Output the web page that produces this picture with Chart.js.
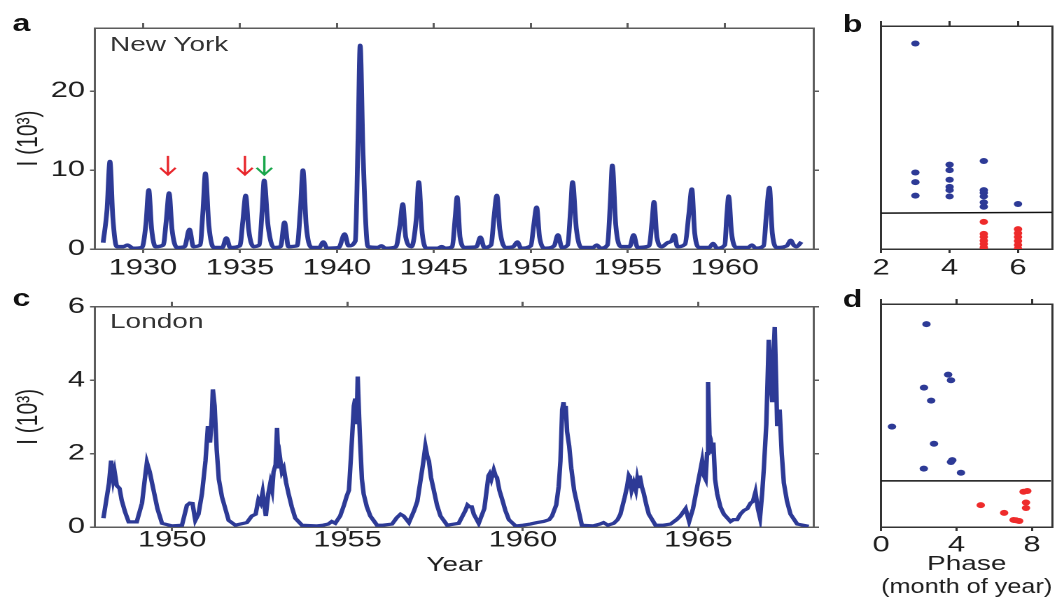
<!DOCTYPE html>
<html>
<head>
<meta charset="utf-8">
<script src="https://cdn.jsdelivr.net/npm/chart.js@4.4.0/dist/chart.umd.min.js"></script>
<style>
  html, body { margin: 0; padding: 0; background: #fff; overflow: hidden; }
  /* the original figure is stretched sideways, so the whole page is drawn narrow and scaled */
  #fig { position: absolute; left: 0; top: 0; width: 758px; height: 598px;
         transform: scaleX(1.4); transform-origin: 0 0; }
  #fig canvas { position: absolute; }
  .tag { position: absolute; font: bold 23px "Liberation Sans", Arial, sans-serif; line-height: 1; color: #111; }
  .city { position: absolute; font: 20px "Liberation Sans", Arial, sans-serif; line-height: 1; color: #333; }
</style>
</head>
<body>
<div id="fig">
  <canvas id="chartA"></canvas>
  <canvas id="chartB"></canvas>
  <canvas id="chartC"></canvas>
  <canvas id="chartD"></canvas>
  <div class="tag" style="left:9px;top:12px">a</div>
  <div class="tag" style="left:602px;top:13px">b</div>
  <div class="tag" style="left:9px;top:287px">c</div>
  <div class="tag" style="left:602px;top:288px">d</div>
  <div class="city" style="left:78.6px;top:34px">New York</div>
  <div class="city" style="left:78.6px;top:311px">London</div>
</div>
<script>
const S = 1.4; // horizontal stretch

// ===== a: New York, cases (thousands) =====
const nyYear = [
  1927.95, 1928.15, 1928.3, 1928.45, 1928.65, 1929.0, 1929.2, 1929.5,
  1929.95, 1930.15, 1930.3, 1930.45, 1930.65,
  1931.05, 1931.2, 1931.35, 1931.5, 1931.75,
  1932.15, 1932.4, 1932.6,
  1932.95, 1933.1, 1933.22, 1933.4, 1933.65,
  1934.1, 1934.3, 1934.5,
  1935.0, 1935.15, 1935.3, 1935.45, 1935.7,
  1936.0, 1936.15, 1936.25, 1936.45, 1936.75,
  1937.1, 1937.3, 1937.5,
  1937.95, 1938.12, 1938.25, 1938.42, 1938.7,
  1939.1, 1939.3, 1939.5,
  1940.1, 1940.4, 1940.6,
  1940.95, 1941.1, 1941.2, 1941.35, 1941.6,
  1942.1, 1942.3, 1942.5,
  1943.05, 1943.25, 1943.4, 1943.55, 1943.85,
  1944.1, 1944.22, 1944.4, 1944.65,
  1945.2, 1945.4, 1945.6,
  1945.95, 1946.1, 1946.2, 1946.35, 1946.6,
  1947.2, 1947.4, 1947.6,
  1947.95, 1948.1, 1948.25, 1948.4, 1948.7,
  1949.1, 1949.3, 1949.5,
  1950.0, 1950.15, 1950.3, 1950.45, 1950.75,
  1951.2, 1951.4, 1951.6,
  1951.9, 1952.05, 1952.15, 1952.35, 1952.6,
  1953.2, 1953.4, 1953.6,
  1953.95, 1954.1, 1954.2, 1954.38, 1954.65,
  1955.1, 1955.3, 1955.5,
  1956.1, 1956.25, 1956.35, 1956.5, 1956.75,
  1957.05, 1957.25, 1957.4, 1957.55,
  1957.95, 1958.15, 1958.3, 1958.45, 1958.7,
  1959.2, 1959.4, 1959.6,
  1960.0, 1960.1, 1960.2, 1960.35, 1960.6,
  1961.2, 1961.4, 1961.6,
  1962.0, 1962.15, 1962.3, 1962.45, 1962.7,
  1963.2, 1963.4, 1963.55, 1963.7, 1963.95
];
const nyCases = [
  0.8, 5, 11.1, 4, 0.3, 0.3, 0.5, 0.1,
  0.2, 3, 7.5, 2.5, 0.3,
  0.5, 3.5, 7.1, 2.5, 0.2,
  0.3, 2.5, 0.3,
  0.5, 5, 9.6, 3, 0.2,
  0.2, 1.4, 0.2,
  0.4, 3.5, 6.8, 2.5, 0.3,
  0.5, 5, 8.7, 3, 0.2,
  0.3, 3.4, 0.3,
  0.4, 5, 10.0, 3, 0.2,
  0.2, 0.9, 0.1,
  0.2, 1.9, 0.4,
  1, 15, 25.8, 12, 0.3,
  0.2, 0.4, 0.1,
  0.3, 3, 5.7, 1.5, 0.3,
  4, 8.5, 2, 0.1,
  0.1, 0.3, 0.1,
  0.3, 4, 6.6, 1.5, 0.2,
  0.3, 1.5, 0.2,
  0.5, 4, 6.8, 2.5, 0.2,
  0.3, 0.9, 0.1,
  0.4, 3, 5.3, 1.5, 0.1,
  0.4, 1.8, 0.2,
  0.5, 5, 8.5, 2.5, 0.2,
  0.2, 0.5, 0.1,
  0.5, 6, 10.6, 3, 0.3,
  0.3, 1.8, 0.2,
  0.4, 3.5, 6.0, 1.5, 0.3,
  0.8, 1.0, 1.8, 0.3,
  0.6, 4.5, 7.6, 2, 0.2,
  0.2, 0.7, 0.1,
  0.5, 4, 6.7, 2, 0.2,
  0.2, 0.5, 0.1,
  0.4, 4.5, 7.8, 2, 0.2,
  0.4, 1.1, 0.5, 0.3, 0.9
];
const nyTicksX = [1930, 1935, 1940, 1945, 1950, 1955, 1960];
const nyTicksY = [0, 10, 20];
const arrowYear = [1931.29, 1935.26, 1936.26];
const arrowColor = ["#e8262c", "#e8262c", "#19a64b"];
const arrowFrom = 11.8, arrowTo = 9.4;

// ===== b: New York, peak size vs phase =====
const nyHighPhase = [3, 3, 3, 3, 4, 4, 4, 4, 4, 4, 5, 5, 5, 5, 5, 5, 6];
const nyHighPeak  = [25.8, 9.6, 8.4, 6.7, 10.6, 9.9, 8.7, 7.8, 7.4, 6.6, 11.05, 7.4, 7.05, 6.6, 5.85, 5.3, 5.65];
const nyLowPhase  = [5, 5, 5, 5, 5, 5, 6, 6, 6, 6, 6, 6];
const nyLowPeak   = [3.4, 1.9, 1.5, 1.05, 0.63, 0.2, 2.5, 2.0, 1.5, 1.0, 0.5, 0.05];
const nyCutPhase  = [2, 7];
const nyCutPeak   = [4.5, 4.6];
const bTicksX = [2, 4, 6];

// ===== c: London, cases (thousands) =====
const ldYear = [
  1948.04, 1948.2, 1948.26, 1948.32, 1948.36, 1948.42, 1948.5, 1948.56, 1948.66, 1948.76,
  1948.99, 1949.14, 1949.22, 1949.28, 1949.36, 1949.47, 1949.58, 1949.71, 1950.0, 1950.28,
  1950.42, 1950.5, 1950.58, 1950.66, 1950.75, 1950.85, 1950.95, 1951.02, 1951.08, 1951.13,
  1951.16, 1951.21, 1951.27, 1951.33, 1951.42, 1951.61, 1951.8, 1952.13, 1952.27, 1952.38,
  1952.46, 1952.52, 1952.58, 1952.67, 1952.74, 1952.8, 1952.85, 1952.89, 1952.95, 1952.99,
  1953.04, 1953.08, 1953.13, 1953.18, 1953.25, 1953.32, 1953.41, 1953.51, 1953.7, 1954.1,
  1954.3, 1954.45, 1954.55, 1954.65, 1954.79, 1954.9, 1954.98, 1955.04, 1955.1, 1955.18,
  1955.22, 1955.26, 1955.29, 1955.33, 1955.36, 1955.41, 1955.46, 1955.55, 1955.65, 1955.84,
  1956.0, 1956.27, 1956.4, 1956.51, 1956.6, 1956.75, 1956.9, 1956.99, 1957.07, 1957.15,
  1957.22, 1957.27, 1957.32, 1957.38, 1957.46, 1957.55, 1957.65, 1957.84, 1958.17, 1958.28,
  1958.36, 1958.42, 1958.48, 1958.54, 1958.6, 1958.74, 1958.9, 1958.98, 1959.02, 1959.05,
  1959.1, 1959.17, 1959.22, 1959.26, 1959.33, 1959.41, 1959.5, 1959.6, 1959.79, 1960.0,
  1960.21, 1960.4, 1960.59, 1960.75, 1960.83, 1960.95, 1961.02, 1961.07, 1961.12, 1961.16,
  1961.19, 1961.22, 1961.26, 1961.32, 1961.38, 1961.46, 1961.54, 1961.68, 1962.0, 1962.2,
  1962.3, 1962.42, 1962.59, 1962.7, 1962.78, 1962.9, 1962.97, 1963.02, 1963.05, 1963.1,
  1963.16, 1963.22, 1963.26, 1963.3, 1963.33, 1963.39, 1963.45, 1963.52, 1963.59, 1963.78,
  1964.0, 1964.21, 1964.38, 1964.49, 1964.64, 1964.74, 1964.85, 1964.97, 1965.05, 1965.11,
  1965.16, 1965.21, 1965.25, 1965.28, 1965.32, 1965.35, 1965.4, 1965.43, 1965.48, 1965.54,
  1965.63, 1965.73, 1965.92, 1966.0, 1966.11, 1966.2, 1966.3, 1966.4, 1966.49, 1966.56,
  1966.63, 1966.7, 1966.76, 1966.82, 1966.87, 1966.94, 1967.01, 1967.06, 1967.11, 1967.15,
  1967.18, 1967.22, 1967.25, 1967.32, 1967.38, 1967.44, 1967.53, 1967.63, 1967.82, 1968.15
];
const ldCases = [
  0.24, 1.2, 1.81, 1.3, 1.5, 1.13, 1.05, 0.73, 0.4, 0.14,
  0.14, 0.65, 1.3, 1.76, 1.5, 1.0, 0.5, 0.1, 0.03, 0.05,
  0.59, 0.65, 0.64, 0.18, 0.35, 0.91, 1.8, 2.75, 2.3, 3.0,
  3.75, 3.3, 2.1, 1.3, 0.82, 0.18, 0.05, 0.12, 0.3, 0.35,
  0.75, 0.65, 0.95, 0.3, 0.9, 1.2, 1.0, 1.5, 1.7, 2.7,
  1.6, 1.85, 1.5, 1.6, 1.2, 0.9, 0.55, 0.24, 0.05, 0.03,
  0.05, 0.08, 0.15, 0.1, 0.3, 0.6, 0.85, 1.0, 1.95, 3.3,
  3.5, 2.8, 4.1, 3.0, 2.3, 1.3, 0.9, 0.55, 0.3, 0.05,
  0.05, 0.08, 0.25, 0.35, 0.3, 0.12, 0.45, 0.7, 1.2, 1.7,
  2.2, 1.95, 1.8, 1.35, 1.0, 0.6, 0.3, 0.05, 0.1, 0.3,
  0.45, 0.6, 0.55, 0.55, 0.35, 0.1, 0.5, 1.1, 1.4, 1.45,
  1.3, 1.55, 1.4, 1.35, 1.0, 0.75, 0.45, 0.2, 0.03, 0.05,
  0.08, 0.12, 0.15, 0.2, 0.3, 0.6, 1.1, 1.8, 3.2, 3.4,
  3.0, 3.3, 2.6, 2.2, 1.6, 1.0, 0.65, 0.05, 0.03, 0.08,
  0.12, 0.05, 0.1, 0.2, 0.35, 0.8, 1.1, 1.4, 1.35, 1.0,
  1.2, 1.0, 1.3, 1.1, 1.4, 1.1, 0.9, 0.6, 0.35, 0.05,
  0.05, 0.08, 0.2, 0.3, 0.5, 0.15, 0.5, 1.1, 1.5, 1.8,
  1.4, 1.3, 2.0, 3.95, 2.5, 2.4, 2.0, 2.3, 1.3, 0.9,
  0.55, 0.35, 0.15, 0.2, 0.2, 0.35, 0.45, 0.5, 0.65, 0.7,
  0.95, 0.5, 0.25, 0.9, 1.6, 2.8, 5.1, 4.0, 3.4, 4.8,
  5.45, 4.0, 2.75, 3.2, 2.0, 1.2, 0.7, 0.35, 0.08, 0.02
];
const ldTicksX = [1950, 1955, 1960, 1965];
const ldTicksY = [0, 2, 4, 6];

// ===== d: London, peak size vs phase =====
const ldHighPhase = [2.4, 3.55, 3.7, 2.27, 2.65, 0.57, 2.8, 3.77, 3.7, 2.26, 4.23];
const ldHighPeak  = [5.46, 4.1, 3.95, 3.75, 3.4, 2.7, 2.24, 1.8, 1.75, 1.57, 1.46];
const ldLowPhase  = [7.55, 7.75, 7.68, 7.68, 5.28, 6.52, 7.02, 7.32, 7.15];
const ldLowPeak   = [0.95, 0.97, 0.66, 0.51, 0.59, 0.38, 0.19, 0.16, 0.18];
const ldCutPhase  = [0, 9];
const ldCutPeak   = [1.24, 1.24];
const dTicksX = [0, 4, 8];

// ===== styles =====
const FONT = '"Liberation Sans", Arial, Helvetica, sans-serif';
const BLUE = "#2d3a96";
const RED = "#ee2b2b";
const INK = "#1e1e1e";

const pts = (xs, ys) => xs.map((x, i) => ({ x: x, y: ys[i] }));

// put a canvas where the panel sits in the (unstretched) figure and
// work out the axis box sizes that leave the plot area at the right spot
function place(id, frame, plot) {
  const cv = document.getElementById(id);
  const w = Math.round(frame.w / S);
  cv.width = w;
  cv.height = frame.h;
  cv.style.left = (frame.x / S) + "px";
  cv.style.top = frame.y + "px";
  return {
    cv: cv,
    l: (plot.l - frame.x) / S,
    r: w - (plot.r - frame.x) / S,
    t: plot.t - frame.y,
    b: frame.y + frame.h - plot.b
  };
}

// four-sided frame: bottom/left axes carry labels, top/right only tick marks
function frameScales(box, o) {
  const fix = arr => (s => { s.ticks = arr.map(v => ({ value: v })); });
  const gridOf = (len, show) => ({ drawOnChartArea: false, drawTicks: show, tickLength: len, color: o.frame, lineWidth: 1.5 });
  const border = { display: true, color: o.frame, width: 1.5 };
  const tickFont = { family: FONT, size: 22 };
  return {
    x: {
      type: "linear", position: "bottom", min: o.xMin, max: o.xMax,
      afterBuildTicks: fix(o.xTicks), afterFit: s => { s.height = box.b; },
      grid: gridOf(4, true), border: border,
      ticks: { font: tickFont, color: INK, padding: o.xPad, maxRotation: 0, autoSkip: false, callback: v => String(v) },
      title: o.xTitle ? { display: true, text: o.xTitle, color: INK, font: { family: FONT, size: 20, lineHeight: 1.15 }, padding: { top: 0, bottom: o.xTitlePad } } : { display: false }
    },
    x2: {
      type: "linear", position: "top", min: o.xMin, max: o.xMax,
      afterBuildTicks: fix(o.xTicks), afterFit: s => { s.height = box.t; },
      grid: gridOf(5, true), border: border, ticks: { display: false }
    },
    y: {
      type: "linear", position: "left", min: o.yMin, max: o.yMax,
      afterBuildTicks: fix(o.yTicks), afterFit: s => { s.width = box.l; },
      grid: gridOf(5 / S, o.yLabels), border: border,
      ticks: { display: o.yLabels, font: tickFont, color: INK, padding: 3.6, callback: v => String(v) },
      title: o.yTitle ? { display: true, text: o.yTitle, color: INK, font: { family: FONT, size: 21 }, padding: { top: 8, bottom: 0 } } : { display: false }
    },
    y2: {
      type: "linear", position: "right", min: o.yMin, max: o.yMax,
      afterBuildTicks: fix(o.yTicks), afterFit: s => { s.width = box.r; },
      grid: gridOf(5 / S, o.yLabels), border: border, ticks: { display: false }
    }
  };
}

const baseOptions = {
  responsive: false,
  animation: false,
  devicePixelRatio: 2,
  events: [],
  layout: { padding: 0 },
  plugins: { legend: { display: false }, tooltip: { enabled: false } }
};

// down arrows over the epidemics in panel a
const arrowPlugin = {
  id: "arrows",
  afterDatasetsDraw(chart) {
    const ctx = chart.ctx, xs = chart.scales.x, ys = chart.scales.y;
    arrowYear.forEach((yr, i) => {
      const x = xs.getPixelForValue(yr);
      const y0 = ys.getPixelForValue(arrowFrom);
      const y1 = ys.getPixelForValue(arrowTo);
      ctx.save();
      ctx.strokeStyle = arrowColor[i];
      ctx.lineWidth = 1.7;
      ctx.beginPath();
      ctx.moveTo(x, y0); ctx.lineTo(x, y1);
      ctx.moveTo(x - 5.5, y1 - 7); ctx.lineTo(x, y1); ctx.lineTo(x + 5.5, y1 - 7);
      ctx.stroke();
      ctx.restore();
    });
  }
};

// ---- panel a ----
const boxA = place("chartA", { x: 0, y: 0, w: 830, h: 290 }, { l: 95, t: 28, r: 814, b: 249 });
new Chart(boxA.cv, {
  type: "line",
  data: {
    datasets: [{
      data: pts(nyYear, nyCases),
      borderColor: BLUE, borderWidth: 3.4, pointRadius: 0,
      tension: 0.4, cubicInterpolationMode: "monotone"
    }]
  },
  options: Object.assign({}, baseOptions, {
    scales: frameScales(boxA, {
      xMin: 1927.53, xMax: 1964.6, xTicks: nyTicksX, xPad: 2,
      yMin: 0, yMax: 28, yTicks: nyTicksY, yLabels: true,
      yTitle: "I (10³)", frame: "#5c5c5c"
    })
  }),
  plugins: [arrowPlugin]
});

// ---- panel b ----
const boxB = place("chartB", { x: 830, y: 0, w: 231, h: 290 }, { l: 881, t: 26, r: 1052, b: 249 });
new Chart(boxB.cv, {
  type: "scatter",
  data: {
    datasets: [
      { data: pts(nyCutPhase, nyCutPeak), showLine: true, borderColor: "#111", borderWidth: 1.5, pointRadius: 0 },
      { data: pts(nyHighPhase, nyHighPeak), backgroundColor: BLUE, borderWidth: 0, pointRadius: 3 },
      { data: pts(nyLowPhase, nyLowPeak), backgroundColor: RED, borderWidth: 0, pointRadius: 3 }
    ]
  },
  options: Object.assign({}, baseOptions, {
    scales: frameScales(boxB, {
      xMin: 2, xMax: 7, xTicks: bTicksX, xPad: 2,
      yMin: 0, yMax: 28, yTicks: nyTicksY, yLabels: false, frame: "#333"
    })
  })
});

// ---- panel c ----
const boxC = place("chartC", { x: 0, y: 290, w: 830, h: 308 }, { l: 95, t: 305, r: 814, b: 527 });
new Chart(boxC.cv, {
  type: "line",
  data: {
    datasets: [{
      data: pts(ldYear, ldCases),
      borderColor: BLUE, borderWidth: 3.2, pointRadius: 0, tension: 0
    }]
  },
  options: Object.assign({}, baseOptions, {
    scales: frameScales(boxC, {
      xMin: 1947.8, xMax: 1968.3, xTicks: ldTicksX, xPad: -4,
      xTitle: "Year", xTitlePad: 21,
      yMin: 0, yMax: 6, yTicks: ldTicksY, yLabels: true,
      yTitle: "I (10³)", frame: "#5c5c5c"
    })
  })
});

// ---- panel d ----
const boxD = place("chartD", { x: 830, y: 290, w: 231, h: 308 }, { l: 881, t: 304, r: 1052, b: 527 });
new Chart(boxD.cv, {
  type: "scatter",
  data: {
    datasets: [
      { data: pts(ldCutPhase, ldCutPeak), showLine: true, borderColor: "#111", borderWidth: 1.5, pointRadius: 0 },
      { data: pts(ldHighPhase, ldHighPeak), backgroundColor: BLUE, borderWidth: 0, pointRadius: 3 },
      { data: pts(ldLowPhase, ldLowPeak), backgroundColor: RED, borderWidth: 0, pointRadius: 3 }
    ]
  },
  options: Object.assign({}, baseOptions, {
    scales: frameScales(boxD, {
      xMin: 0, xMax: 9.07, xTicks: dTicksX, xPad: 1,
      xTitle: ["Phase", "(month of year)"], xTitlePad: -1,
      yMin: 0, yMax: 6, yTicks: ldTicksY, yLabels: false, frame: "#333"
    })
  })
});
</script>
</body>
</html>
